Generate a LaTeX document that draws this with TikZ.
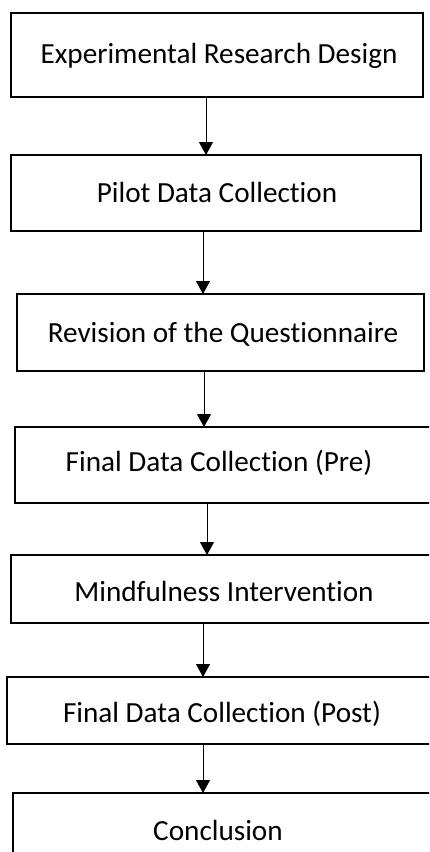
\documentclass[tikz,border=0pt]{standalone}
\usepackage{fontspec}
\setmainfont{Carlito}[Ligatures={NoCommon}]
\usetikzlibrary{arrows.meta}
\begin{document}
\begin{tikzpicture}[x=1pt,y=-1pt,
  stagebox/.style={draw=black,line width=1.5pt,rectangle,inner sep=0pt,outer sep=0pt},
  stagetext/.style={anchor=base,inner sep=0pt,font=\fontsize{29.2}{35}\selectfont},
  flow/.style={draw=black,line width=0.9pt,-{Triangle[length=13pt,width=14pt]}}]
\useasboundingbox (0,0) rectangle (429,852);
\clip (0,0) rectangle (429,852);
% stage frames
\node[stagebox,minimum width=412pt,minimum height=84pt] (b1) at (217,55) {};
\node[stagebox,minimum width=410pt,minimum height=76pt] (b2) at (216,193) {};
\node[stagebox,minimum width=407pt,minimum height=77pt] (b3) at (220.5,332.5) {};
\node[stagebox,minimum width=425pt,minimum height=76pt] (b4) at (227.5,465) {};
\node[stagebox,minimum width=429pt,minimum height=68pt] (b5) at (225.5,589) {};
\node[stagebox,minimum width=433pt,minimum height=67pt] (b6) at (223.5,710.5) {};
\node[stagebox,minimum width=427pt,minimum height=87pt] (b7) at (226.5,836.5) {};
% stage titles
\node[stagetext] (t1) at (219,63) {Experimental Research Design};
\node[stagetext] (t2) at (217,202.5) {Pilot Data Collection};
\node[stagetext] (t3) at (223,342.5) {Revision of the Questionnaire};
\node[stagetext] (t4) at (219,471.5) {Final Data Collection (Pre)};
\node[stagetext] (t5) at (224,601) {Mindfulness Intervention};
\node[stagetext] (t6) at (222,722.5) {Final Data Collection (Post)};
\node[stagetext] (t7) at (218,840) {Conclusion};
% arrow columns
\coordinate (x1) at (206,0);
\coordinate (x2) at (203,0);
\coordinate (x3) at (204,0);
\coordinate (x4) at (207,0);
\coordinate (x5) at (203,0);
\coordinate (x6) at (203,0);
\draw[flow] (x1 |- b1.south) -- (x1 |- b2.north);
\draw[flow] (x2 |- b2.south) -- (x2 |- b3.north);
\draw[flow] (x3 |- b3.south) -- (x3 |- b4.north);
\draw[flow] (x4 |- b4.south) -- (x4 |- b5.north);
\draw[flow] (x5 |- b5.south) -- (x5 |- b6.north);
\draw[flow] (x6 |- b6.south) -- (x6 |- b7.north);
\end{tikzpicture}
\end{document}
